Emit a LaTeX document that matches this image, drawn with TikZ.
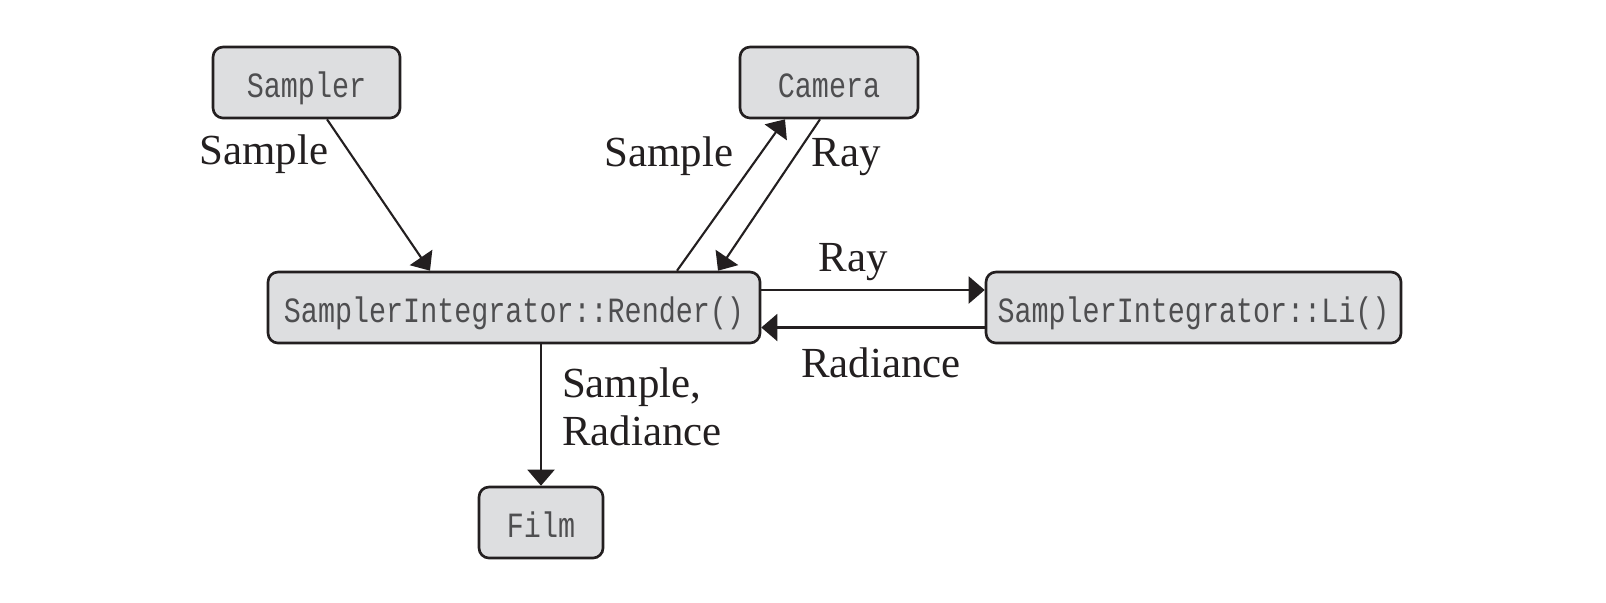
\documentclass[tikz,border=0pt]{standalone}
\usepackage{fontspec}
\setmonofont{Liberation Mono}[FakeStretch=0.8]
\newfontfamily\labelfont{Liberation Serif}
\usepackage{tikz}
\usetikzlibrary{arrows.meta, positioning, calc}

\definecolor{boxgray}{RGB}{221,222,224}
\definecolor{inkdark}{RGB}{35,31,32}
\definecolor{codegray}{RGB}{78,78,80}

\begin{document}
\begin{tikzpicture}[>={Triangle[length=0.16cm, width=0.27cm]}, line width=0.6pt,
    classbox/.style={draw=inkdark, fill=boxgray, rounded corners=0.1cm,
      line width=0.75pt, minimum height=0.71cm, inner sep=0pt, text=codegray,
      text height=0.29cm, text depth=0cm,
      font=\ttfamily\fontsize{10.1}{12}\selectfont},
    flowlabel/.style={text=inkdark, inner sep=0pt, anchor=base,
      font=\labelfont\fontsize{12.2}{13.6}\selectfont}]
  \useasboundingbox (0,0) rectangle (16.06,6.02);

  % Classes
  \node[classbox, minimum width=1.87cm] (sampler) at (3.065,5.195) {Sampler};
  \node[classbox, minimum width=1.78cm] (camera) at (8.29,5.195) {Camera};
  \node[classbox, minimum width=4.92cm] (render) at (5.14,2.945)
    {SamplerIntegrator::Render()};
  \node[classbox, minimum width=4.15cm] (li) at (11.935,2.945)
    {SamplerIntegrator::Li()};
  \node[classbox, minimum width=1.24cm] (film) at (5.41,0.795) {Film};

  % Sampler and camera
  \draw[->, inkdark] ([xshift=0.205cm]sampler.south)
    -- ([xshift=-0.84cm]render.north);
  \draw[->, inkdark] ([xshift=1.63cm]render.north)
    -- ([xshift=-0.44cm]camera.south);
  \draw[->, inkdark] ([xshift=-0.09cm]camera.south)
    -- ([xshift=2.04cm]render.north);

  % Integrator calls
  \draw[->, inkdark] ([yshift=0.175cm]render.east)
    -- ([yshift=0.175cm]li.west);
  \draw[->, inkdark] ([yshift=-0.2cm]li.west)
    -- ([yshift=-0.2cm]render.east);

  % Film
  \draw[->, inkdark] (film.north |- render.south) -- (film.north);

  % Labels
  \node[flowlabel] (lblsamplea) at (2.64,4.38) {Sample};
  \node[flowlabel] (lblsampleb) at (6.69,4.36) {Sample};
  \node[flowlabel] (lblraya) at (8.465,4.36) {Ray};
  \node[flowlabel] (lblrayb) at (8.53,3.31) {Ray};
  \node[flowlabel] (lblradiance) at (8.81,2.25) {Radiance};
  \node[flowlabel, anchor=base west, align=left] (lblfilm) at (5.61,1.57)
    {Sample,\\Radiance};
\end{tikzpicture}
\end{document}
